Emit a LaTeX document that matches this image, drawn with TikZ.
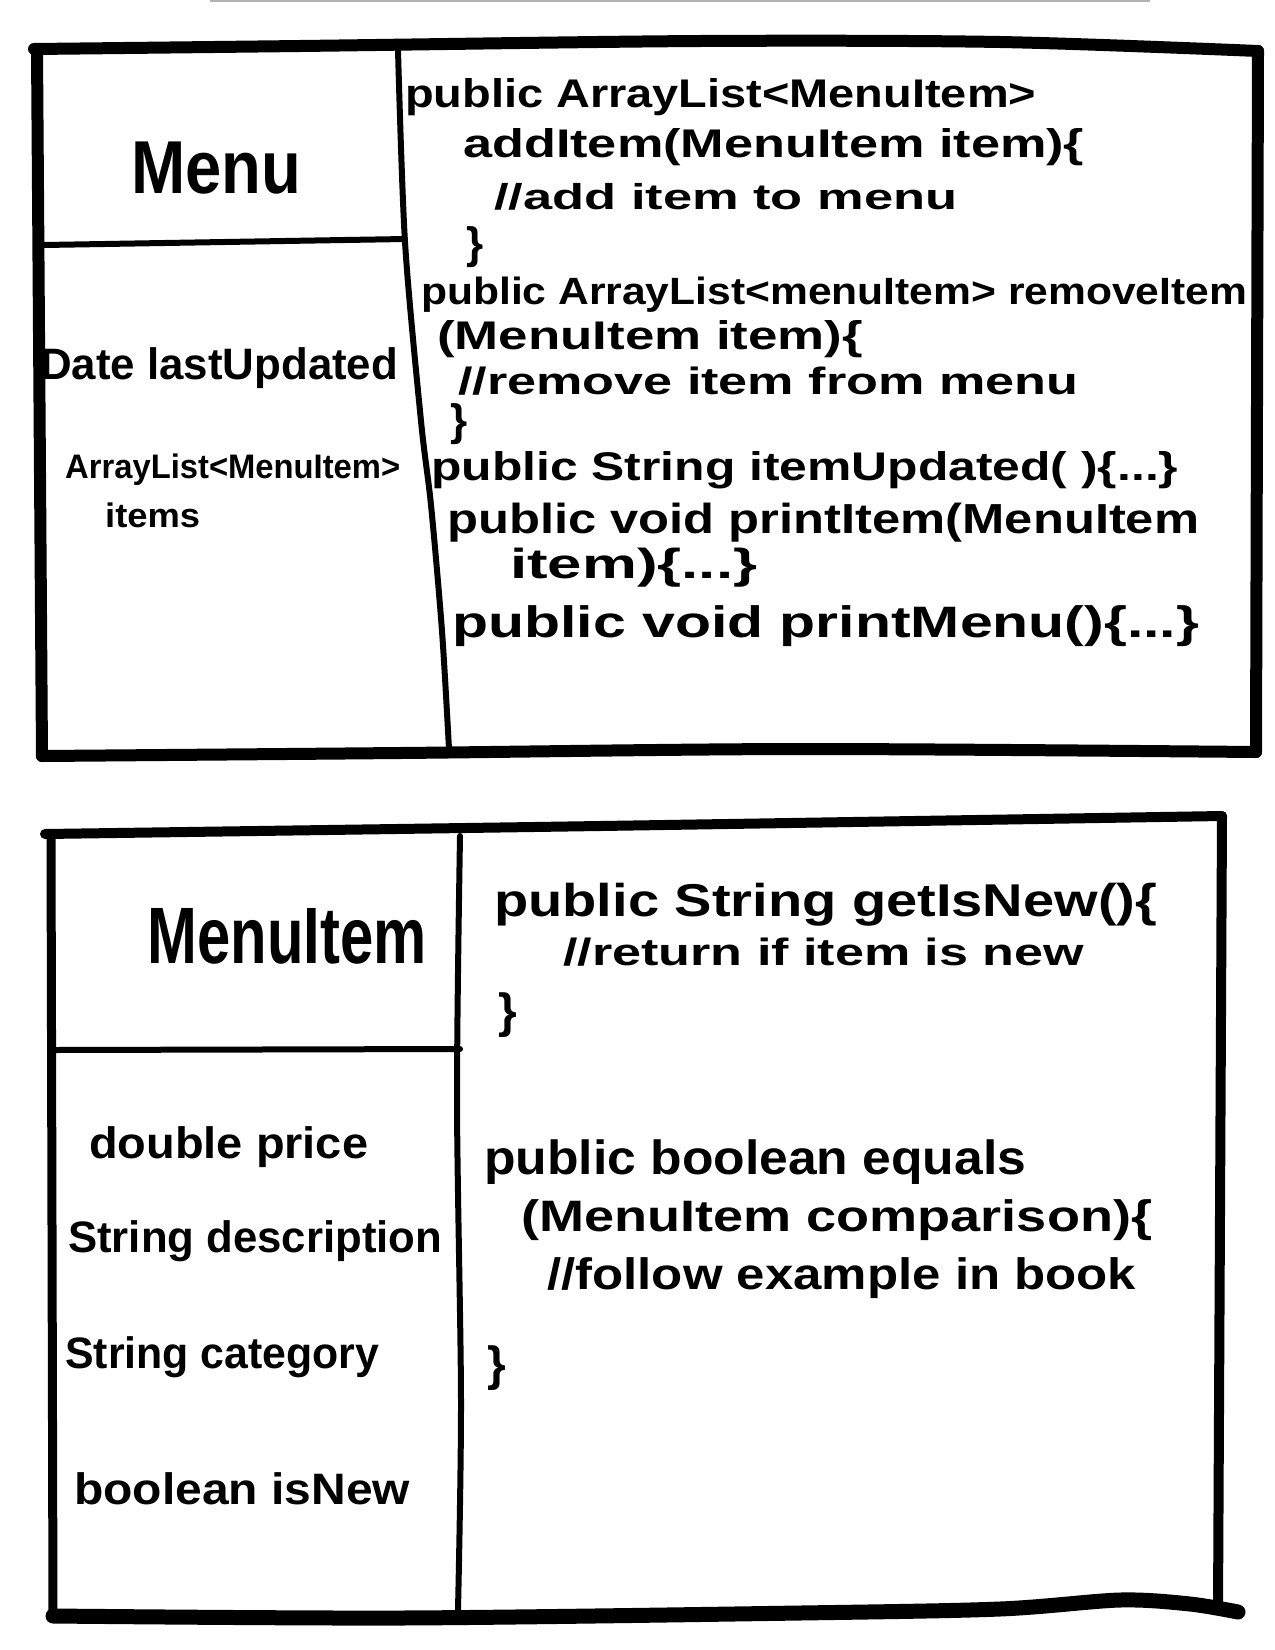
\documentclass[tikz,border=0pt]{standalone}
\usepackage{fontspec}
\setmainfont{Liberation Sans}
\usepackage{graphicx}
\newcommand\hw[3]{\resizebox{#1pt}{\height}{\fontsize{#2}{#2}\selectfont\bfseries #3}}
\newcommand\hs[2]{{\fontsize{#1}{#1}\selectfont\bfseries #2}}
\begin{document}
\begin{tikzpicture}[x=1pt,y=-1pt,
  border/.style={line width=12pt,line cap=round,line join=round},
  divider/.style={line width=6pt,line cap=round},
  code/.style={anchor=west,inner sep=0pt},
  title/.style={anchor=center,inner sep=0pt}]
\useasboundingbox (0,0) rectangle (1275,1650);
\draw[gray!60,line width=1.5pt] (210,1) -- (1150,1);
% ---------- Menu box ----------
\draw[border] plot[smooth] coordinates {(34,49) (300,46) (700,41) (1000,42) (1258,51)};
\draw[border] (1258,51) -- (1256,752);
\draw[border] plot[smooth] coordinates {(1256,752) (800,749) (400,753) (42,756)};
\draw[border] (42,756) -- (37,49);
\draw[divider] plot[smooth] coordinates {(398,50) (405,242) (421,421) (431,505) (442,631) (449,749)};
\draw[divider] (44,245) -- (405,239);
\node[title] (menuT) at (216,168) {\hw{170}{75}{Menu}};
\node[code] (mA1) at (40,368) {\hw{358}{44}{Date lastUpdated}};
\node[code] (mA2) at (65,470) {\hw{335}{34}{ArrayList<MenuItem>}};
\node[code] (mA3) at (105,515) {\hw{95}{34}{items}};
\node[code] (m1) at (405,97) {\hw{631}{40}{public ArrayList<MenuItem>}};
\node[code] (m2) at (463,147) {\hw{621}{40}{addItem(MenuItem item)\{}};
\node[code] (m3) at (494,197) {\hw{463}{36}{//add item to menu}};
\node[code] (m4) at (466,247) {\hs{44}{\}}};
\node[code] (m5) at (421,295) {\hw{826}{38}{public ArrayList<menuItem> removeItem}};
\node[code] (m6) at (437,339) {\hw{426}{40}{(MenuItem item)\{}};
\node[code] (m7) at (458,381) {\hw{620}{38}{//remove item from menu}};
\node[code] (m8) at (450,424) {\hs{44}{\}}};
\node[code] (m9) at (431,470) {\hw{747}{40}{public String itemUpdated( )\{...\}}};
\node[code] (m10) at (447,523) {\hw{752}{42}{public void printItem(MenuItem}};
\node[code] (m11) at (510,568) {\hw{247}{42}{item)\{...\}}};
\node[code] (m12) at (452,626) {\hw{747}{44}{public void printMenu()\{...\}}};
% ---------- MenuItem box ----------
\draw[border,line width=10pt] plot[smooth] coordinates {(45,834) (600,826) (1222,816)};
\draw[border,line width=10pt] (1222,816) -- (1218,1610);
\draw[border,line width=15pt] plot[smooth] coordinates {(53,1616) (400,1618) (800,1613) (1000,1609) (1120,1600) (1190,1604) (1238,1612)};
\draw[border,line width=9pt] (53,1616) -- (51,834);
\draw[divider] plot[smooth] coordinates {(460,836) (457,1100) (461,1400) (458,1610)};
\draw[divider] (53,1050) -- (460,1049);
\node[title] (itemT) at (287,936) {\hw{279}{80}{MenuItem}};
\node[code] (iA1) at (89,1147) {\hw{279}{44}{double price}};
\node[code] (iA2) at (68,1241) {\hw{374}{44}{String description}};
\node[code] (iA3) at (65,1357) {\hw{314}{44}{String category}};
\node[code] (iA4) at (74,1489) {\hw{336}{44}{boolean isNew}};
\node[code] (i1) at (494,905) {\hw{663}{46}{public String getIsNew()\{}};
\node[code] (i2) at (563,952) {\hw{521}{38}{//return if item is new}};
\node[code] (i3) at (498,1015) {\hs{48}{\}}};
\node[code] (i4) at (484,1162) {\hw{542}{48}{public boolean equals}};
\node[code] (i5) at (521,1220) {\hw{631}{44}{(MenuItem comparison)\{}};
\node[code] (i6) at (547,1278) {\hw{589}{44}{//follow example in book}};
\node[code] (i7) at (487,1368) {\hs{48}{\}}};
\end{tikzpicture}
\end{document}
